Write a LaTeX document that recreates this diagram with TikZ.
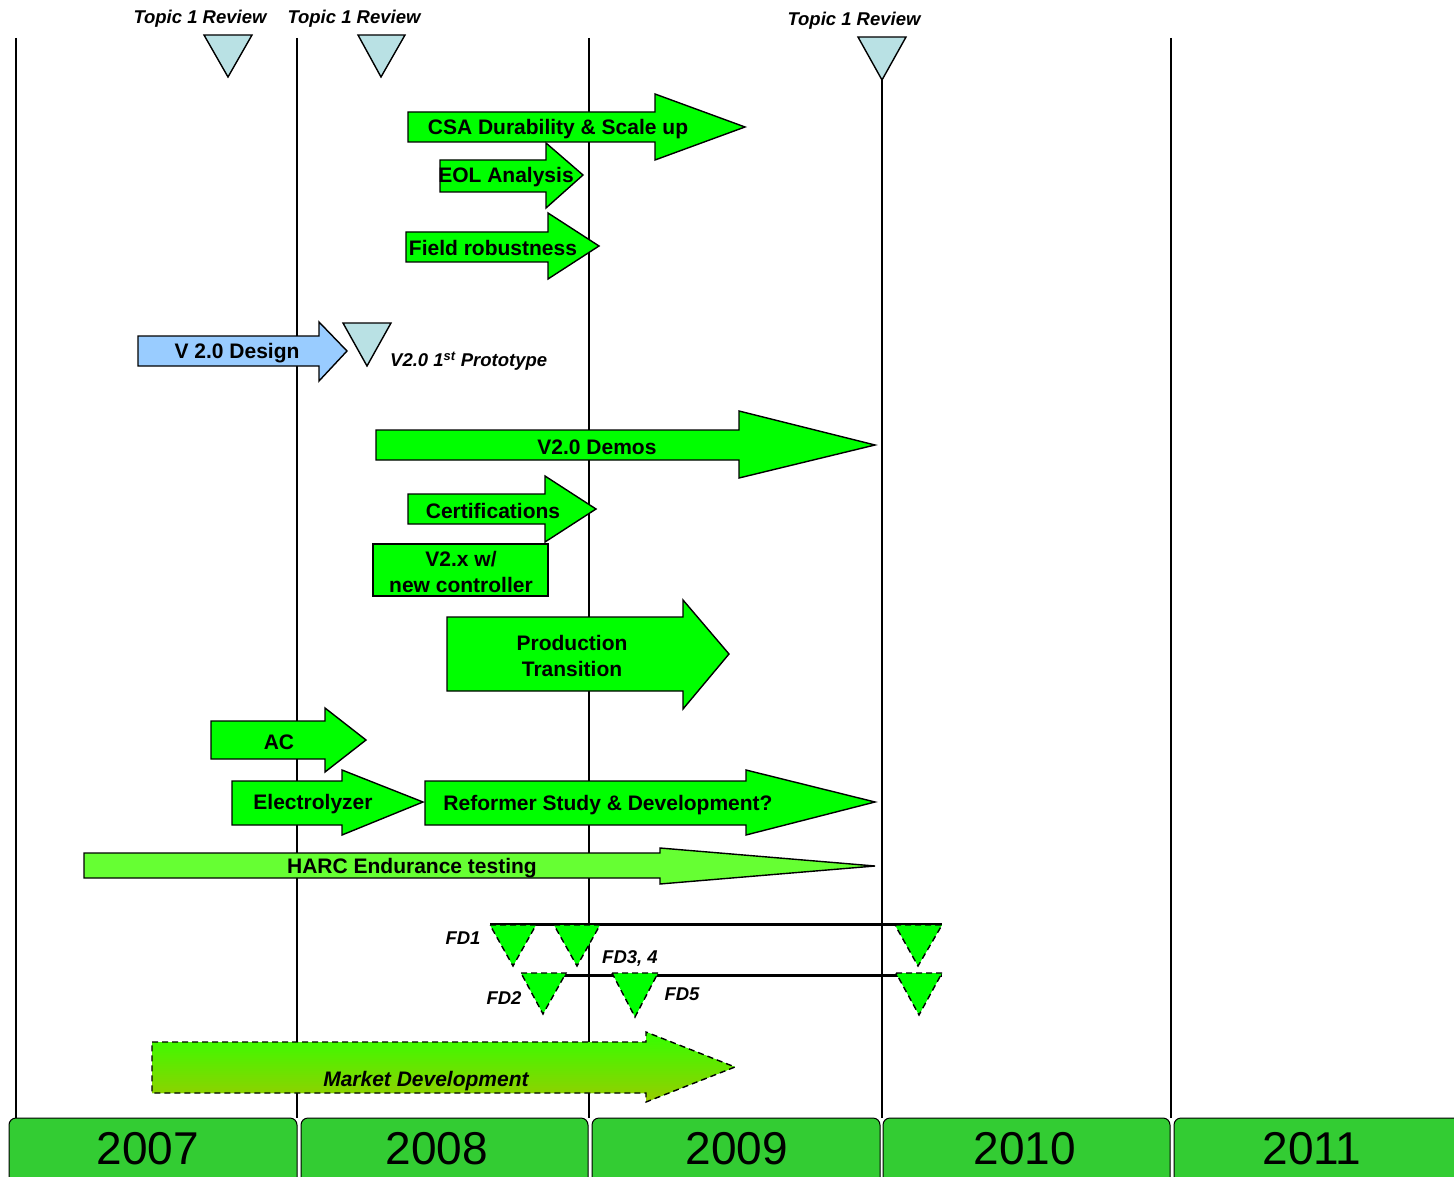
\documentclass[tikz,border=0pt]{standalone}
\usepackage{fontspec}
\setmainfont{Liberation Sans}

\definecolor{barGreen}{RGB}{0,255,0}
\definecolor{harcGreen}{RGB}{102,255,51}
\definecolor{designBlue}{RGB}{153,204,255}
\definecolor{reviewBlue}{RGB}{185,225,228}
\definecolor{yearGreen}{RGB}{51,204,51}
\definecolor{mktTop}{RGB}{51,255,0}
\definecolor{mktBot}{RGB}{153,204,0}

\begin{document}
\begin{tikzpicture}[
    x=1pt, y=-1pt,
    yearline/.style={black, line width=1.3pt},
    bar/.style={draw=black, line width=1.4pt, fill=barGreen, line join=miter},
    lbl/.style={font=\fontsize{21}{26}\selectfont\bfseries, align=center, inner sep=0pt, yshift=-2pt},
    note/.style={font=\fontsize{18.5}{20}\selectfont\bfseries\itshape, inner sep=0pt, yshift=-1pt},
    review/.style={draw=black, line width=1.4pt, fill=reviewBlue},
    fdmark/.style={draw=black, line width=1.4pt, dash pattern=on 6pt off 4pt, fill=barGreen},
    fdline/.style={black, line width=3pt},
    yearbox/.style={draw=black, line width=1pt, fill=yearGreen, rounded corners=7pt},
    year/.style={font=\fontsize{46}{50}\selectfont, inner sep=0pt},
]
\useasboundingbox (0,0) rectangle (1454,1177);

% ── Year grid ─────────────────────────────────────────
\foreach \x in {16,297,589,1171}
    \draw[yearline] (\x,38) -- (\x,1118);
\draw[yearline] (882,80) -- (882,1118);

\foreach \yr/\xa/\xb/\xc in {2007/9/297/148, 2008/301/588/437, 2009/592/880/737,
                            2010/883/1170/1025, 2011/1174/1480/1312} {
    \draw[yearbox] (\xa,1118) rectangle (\xb,1200);
    \node[year] (y\yr) at (\xc,1149) {\yr};
}

% ── Reviews ───────────────────────────────────────────
\draw[review] (204,35) -- (252,35) -- (228,77) -- cycle;
\draw[review] (358,35) -- (405,35) -- (381,77) -- cycle;
\draw[review] (858,37) -- (906,37) -- (882,80) -- cycle;
\node[note] (rev1) at (200,18) {Topic 1 Review};
\node[note] (rev2) at (354,18) {Topic 1 Review};
\node[note] (rev3) at (854,20) {Topic 1 Review};

% ── CSA work ──────────────────────────────────────────
\draw[bar] (408,112) -- (655,112) -- (655,94) -- (745,127) -- (655,160) -- (655,142) -- (408,142) -- cycle;
\node[lbl] (csa) at (558,127) {CSA Durability \& Scale up};

\draw[bar] (440,160) -- (546,160) -- (546,143) -- (583,175) -- (546,208) -- (546,192) -- (440,192) -- cycle;
\node[lbl] (eol) at (506,175) {EOL Analysis};

\draw[bar] (406,232) -- (548,232) -- (548,213) -- (599,246) -- (548,279) -- (548,262) -- (406,262) -- cycle;
\node[lbl] (field) at (493,246) {Field robustness};

% ── V2.0 ──────────────────────────────────────────────
\draw[bar, fill=designBlue] (138,336) -- (319,336) -- (319,322) -- (347,351) -- (319,381) -- (319,366) -- (138,366) -- cycle;
\node[lbl] (design) at (237,351) {V 2.0 Design};
\draw[review] (343,323) -- (391,323) -- (367,366) -- cycle;
\node[note, anchor=west] (proto) at (390,360) {V2.0 1\textsuperscript{st} Prototype};

\draw[bar] (376,430) -- (739,430) -- (739,411) -- (875,445) -- (739,478) -- (739,460) -- (376,460) -- cycle;
\node[lbl] (demos) at (597,445) {V2.0 Demos};

\draw[bar] (408,494) -- (545,494) -- (545,476) -- (596,509) -- (545,542) -- (545,524) -- (408,524) -- cycle;
\node[lbl] (cert) at (493,509) {Certifications};

\draw[bar] (373,544) rectangle (548,596);
\node[lbl] (ctrl) at (461,570) {V2.x w/\\new controller};

\draw[bar] (447,617) -- (683,617) -- (683,600) -- (729,654) -- (683,709) -- (683,691) -- (447,691) -- cycle;
\node[lbl] (prod) at (572,654) {Production\\Transition};

% ── Fuel side ─────────────────────────────────────────
\draw[bar] (211,721) -- (325,721) -- (325,708) -- (366,740) -- (325,772) -- (325,759) -- (211,759) -- cycle;
\node[lbl] (ac) at (279,740) {AC};

\draw[bar] (232,781) -- (342,781) -- (342,770) -- (423,802) -- (342,835) -- (342,825) -- (232,825) -- cycle;
\node[lbl] (elec) at (313,802) {Electrolyzer};

\draw[bar] (425,781) -- (746,781) -- (746,770) -- (875,802) -- (746,835) -- (746,825) -- (425,825) -- cycle;
\node[lbl] (reform) at (608,803) {Reformer Study \& Development?};

\draw[bar, fill=harcGreen] (84,853) -- (660,853) -- (660,848) -- (875,866) -- (660,884) -- (660,878) -- (84,878) -- cycle;
\node[lbl] (harc) at (412,866) {HARC Endurance testing};

% ── Field demos ───────────────────────────────────────
\draw[fdline] (490,924) -- (942,924);
\draw[fdline] (560,975) -- (942,975);
\draw[fdmark] (490,925) -- (536,925) -- (513,966) -- cycle;
\draw[fdmark] (554,925) -- (600,925) -- (577,966) -- cycle;
\draw[fdmark] (895,925) -- (942,925) -- (918,966) -- cycle;
\draw[fdmark] (521,973) -- (566,973) -- (543,1014) -- cycle;
\draw[fdmark] (612,973) -- (658,973) -- (635,1017) -- cycle;
\draw[fdmark] (896,973) -- (942,973) -- (919,1015) -- cycle;
\node[note] (fd1) at (463,937) {FD1};
\node[note] (fd34) at (630,957) {FD3, 4};
\node[note] (fd2) at (504,997) {FD2};
\node[note] (fd5) at (682,993) {FD5};

% ── Market ────────────────────────────────────────────
\draw[fdmark, top color=mktTop, bottom color=mktBot] (152,1042) -- (646,1042) -- (646,1032) -- (735,1067) -- (646,1102) -- (646,1093) -- (152,1093) -- cycle;
\node[note, font=\fontsize{21}{24}\selectfont\bfseries\itshape] (mkt) at (426,1080) {Market Development};

\end{tikzpicture}
\end{document}
